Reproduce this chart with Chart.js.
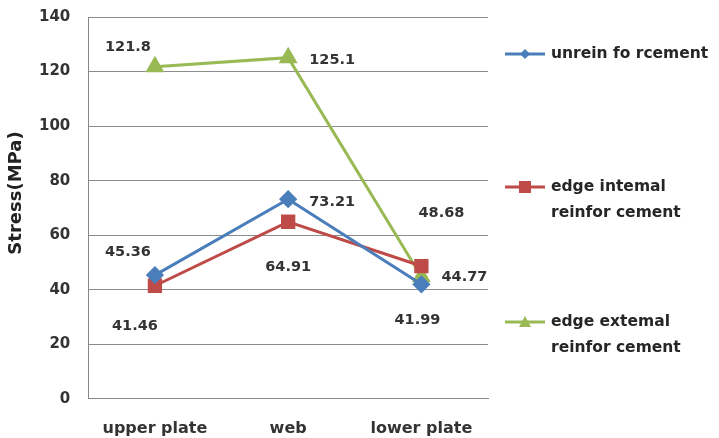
<!DOCTYPE html>
<html>
<head>
<meta charset="utf-8">
<script src="https://cdn.jsdelivr.net/npm/chart.js@4/dist/chart.umd.min.js"></script>
<style>
  html, body { margin: 0; padding: 0; background: #fff; }
  #wrap { width: 719px; height: 438px; position: relative; }
</style>
</head>
<body>
<div id="wrap"><canvas id="stressChart"></canvas></div>
<script>
const categories = ['upper plate', 'web', 'lower plate'];
const unreinforced = [45.36, 73.21, 41.99];
const edgeInternal = [41.46, 64.91, 48.68];
const edgeExternal = [121.8, 125.1, 44.77];
const seriesNames = [['unrein fo rcement'], ['edge intemal', 'reinfor cement'], ['edge extemal', 'reinfor cement']];
const yTicks = [0, 20, 40, 60, 80, 100, 120, 140];
const yTitle = 'Stress(MPa)';

// label offsets in px relative to each point (per series, per category)
const labelOffsets = [
  [[-27, -23], [44, 3], [-4, 36]],
  [[-20, 41], [0, 45], [20, -53]],
  [[-27, -19], [44, 3], [43, 1]]
];
const legendRows = [54, 187, 322];
const FONT = '"DejaVu Sans", sans-serif';

const pointLabels = {
  id: 'pointLabels',
  afterDatasetsDraw(chart) {
    const ctx = chart.ctx;
    ctx.save();
    ctx.font = 'bold 14.5px ' + FONT;
    ctx.fillStyle = '#333';
    ctx.textAlign = 'center';
    ctx.textBaseline = 'middle';
    chart.data.datasets.forEach((ds, i) => {
      chart.getDatasetMeta(i).data.forEach((pt, j) => {
        const o = labelOffsets[i][j];
        ctx.fillText(String(ds.data[j]), pt.x + o[0], pt.y + o[1]);
      });
    });
    ctx.restore();
  }
};

// axis title sits a bit above the plot's middle, like the original
const axisTitle = {
  id: 'axisTitle',
  afterDraw(chart) {
    const ctx = chart.ctx;
    ctx.save();
    ctx.translate(16, 193);
    ctx.rotate(-Math.PI / 2);
    ctx.font = 'bold 18px ' + FONT;
    ctx.fillStyle = '#222';
    ctx.textAlign = 'center';
    ctx.textBaseline = 'middle';
    ctx.fillText(yTitle, 0, 0);
    ctx.restore();
  }
};

const sideLegend = {
  id: 'sideLegend',
  afterDraw(chart) {
    const ctx = chart.ctx;
    ctx.save();
    chart.data.datasets.forEach((ds, i) => {
      const y = legendRows[i];
      ctx.strokeStyle = ds.borderColor;
      ctx.lineWidth = 3;
      ctx.beginPath();
      ctx.moveTo(505, y);
      ctx.lineTo(545, y);
      ctx.stroke();
      ctx.fillStyle = ds.borderColor;
      ctx.beginPath();
      if (i === 0) {
        ctx.moveTo(525, y - 5); ctx.lineTo(530, y); ctx.lineTo(525, y + 5); ctx.lineTo(520, y);
      } else if (i === 1) {
        ctx.rect(519, y - 6, 12, 12);
      } else {
        ctx.moveTo(525, y - 6); ctx.lineTo(531, y + 5); ctx.lineTo(519, y + 5);
      }
      ctx.closePath();
      ctx.fill();
      ctx.fillStyle = '#262626';
      ctx.font = 'bold 15.5px ' + FONT;
      ctx.textAlign = 'left';
      ctx.textBaseline = 'middle';
      seriesNames[i].forEach((t, k) => ctx.fillText(t, 551, y + k * 26));
    });
    ctx.restore();
  }
};

new Chart(document.getElementById('stressChart'), {
  type: 'line',
  data: {
    labels: categories,
    datasets: [
      { label: seriesNames[0].join(' '), data: unreinforced, borderColor: '#4a7ebb', backgroundColor: '#4a7ebb',
        borderWidth: 3, pointStyle: 'rectRot', pointRadius: 7, tension: 0 },
      { label: seriesNames[1].join(' '), data: edgeInternal, borderColor: '#be4b48', backgroundColor: '#be4b48',
        borderWidth: 3, pointStyle: 'rect', pointRadius: 8, tension: 0 },
      { label: seriesNames[2].join(' '), data: edgeExternal, borderColor: '#98b954', backgroundColor: '#98b954',
        borderWidth: 3, pointStyle: 'triangle', pointRadius: 8, tension: 0 }
    ]
  },
  options: {
    responsive: true,
    maintainAspectRatio: false,
    animation: false,
    layout: { autoPadding: false, padding: { top: 4, right: 231, bottom: -20, left: 31 } },
    plugins: { legend: { display: false }, tooltip: { enabled: false } },
    scales: {
      x: {
        offset: true,
        grid: { display: false, drawTicks: false },
        border: { color: '#888', width: 1 },
        ticks: { color: '#333', font: { family: FONT, size: 16, weight: 'bold' }, padding: 20 }
      },
      y: {
        min: 0, max: 140,
        afterBuildTicks(axis) { axis.ticks = yTicks.map(v => ({ value: v })); },
        grid: { color: '#8c8c8c', drawTicks: true, tickLength: 10, tickColor: 'rgba(0,0,0,0)' },
        border: { color: '#888', width: 1 },
        ticks: { color: '#333', font: { family: FONT, size: 15, weight: 'bold' }, padding: 8 }
      }
    }
  },
  plugins: [pointLabels, axisTitle, sideLegend]
});
</script>
</body>
</html>
